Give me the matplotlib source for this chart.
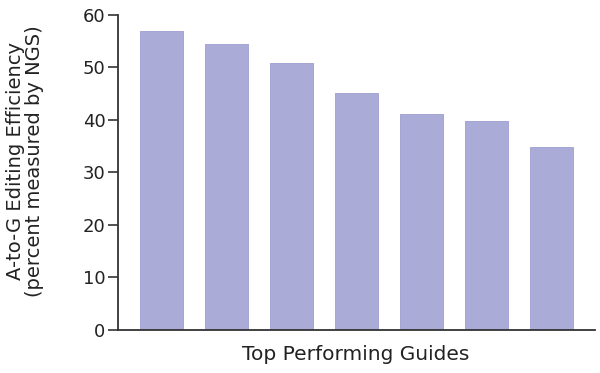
import matplotlib.pyplot as plt

guides = ["1", "2", "3", "4", "5", "6", "7"]
efficiency = [56.9, 54.5, 50.8, 45.1, 41.1, 39.9, 34.9]

plt.rcParams['font.family'] = ['DejaVu Sans']

fig = plt.figure(figsize=(6, 3.73), dpi=100)
ax = fig.add_axes([0.1967, 0.1153, 0.795, 0.8445])

x = range(len(guides))
ax.bar(x, efficiency, 0.66, color='#aaabd7', edgecolor='#9c9ed0', linewidth=0.6)

ax.set_xlim(-0.665, 6.67)
ax.set_ylim(0, 60)
ax.set_yticks([0, 10, 20, 30, 40, 50, 60])
ax.set_xticks([])
ax.tick_params(axis='y', labelsize=13, length=7, width=1.2, color='#333333', pad=2, labelcolor='#222222')

for s in ['top', 'right']:
    ax.spines[s].set_visible(False)
for s in ['left', 'bottom']:
    ax.spines[s].set_color('#333333')
    ax.spines[s].set_linewidth(1.3)

# axis titles placed in figure coords
fig.text(356 / 600, 1 - 360 / 373, 'Top Performing Guides', fontsize=14.5,
         color='#222222', ha='center', va='baseline')
fig.text(25 / 600, 1 - 161 / 373, 'A-to-G Editing Efficiency\n(percent measured by NGS)',
         fontsize=14, color='#222222', ha='center', va='center', rotation=90,
         linespacing=1.0, multialignment='center')

fig.savefig('out.png', dpi=100)
